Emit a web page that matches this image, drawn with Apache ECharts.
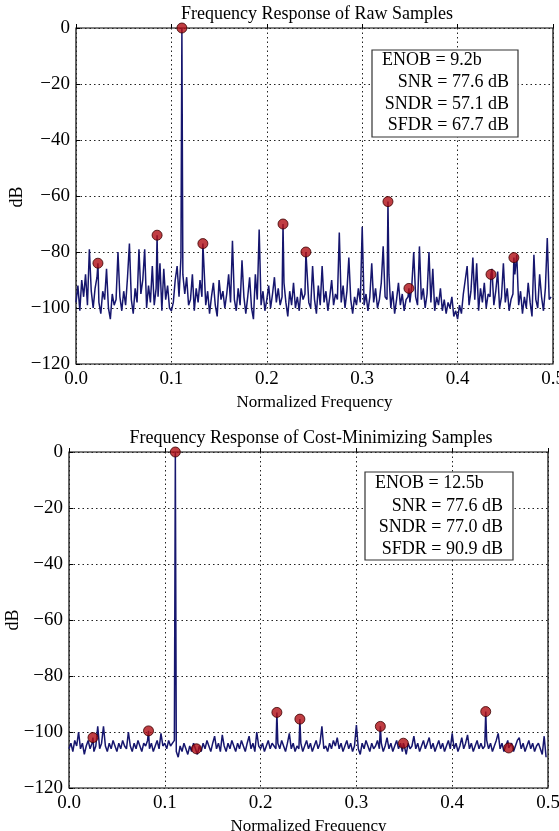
<!DOCTYPE html>
<html>
<head>
<meta charset="utf-8">
<script src="https://cdn.jsdelivr.net/npm/echarts@6/dist/echarts.min.js"></script>
<style>
  html, body { margin: 0; padding: 0; background: #fff; }
  #chart { width: 559px; height: 831px; }
</style>
</head>
<body>
<div id="chart"></div>
<script>
// spectrum bins: frequency of bin k is k * binStep (normalized)
var binStep = 0.002;

// ---- raw samples: noise floor (dB), 250 bins ----
var rawNoise = [
  -98, -92, -101, -90, -96, -88, -99, -79, -94, -100,
  -93, -89, -98, -102, -94, -97, -86, -100, -104, -95,
  -99, -97, -80, -96, -101, -94, -99, -89, -77, -97,
  -102, -93, -98, -79, -95, -90, -79, -100, -92, -98,
  -85, -99, -93, -96, -84, -101, -86, -97, -92, -100,
  -101, -98, -90, -85, -96, -82, -88, -95, -89, -99,
  -97, -88, -101, -93, -98, -90, -96, -84, -99, -94,
  -102, -96, -91, -99, -103, -90, -97, -94, -100, -95,
  -88, -98, -76, -97, -101, -93, -99, -83, -96, -102,
  -96, -89, -100, -104, -88, -97, -72, -99, -94, -101,
  -97, -92, -100, -95, -89, -98, -93, -99, -96, -91,
  -98, -103, -94, -99, -91, -100, -96, -101, -93, -97,
  -95, -86, -98, -100, -85, -97, -102, -92, -99, -85,
  -98, -94, -101, -96, -90, -99, -95, -97, -73, -98,
  -92, -100, -94, -82, -97, -102, -96, -99, -93, -98,
  -71, -99, -95, -101, -96, -84, -98, -93, -100, -97,
  -91, -78, -96, -97, -88, -100, -94, -102, -97, -91,
  -99, -95, -101, -97, -96, -98, -92, -80, -96, -99,
  -78, -97, -93, -100, -95, -80, -98, -86, -101, -96,
  -99, -93, -101, -97, -102, -98, -100, -96, -103, -101,
  -104, -99, -102, -95, -90, -85, -99, -94, -82, -97,
  -84, -101, -93, -98, -91, -100, -95, -96, -86, -99,
  -94, -87, -100, -96, -84, -98, -93, -101, -97, -95,
  -88, -81, -99, -94, -102, -96, -100, -91, -98, -103,
  -81, -97, -100, -88, -96, -101, -93, -75, -97, -96
];
// raw samples: fundamental + marked harmonics
var rawHarmFreq = [0.023, 0.085, 0.111, 0.133, 0.217, 0.241, 0.327, 0.349, 0.435, 0.459];
var rawHarmDb = [-84, -74, 0, -77, -70, -80, -62, -93, -88, -82];

// ---- cost-minimizing samples: noise floor (dB), 250 bins ----
var costNoise = [
  -106, -104, -107, -103, -105, -100, -106, -104, -108, -105,
  -103, -106, -104, -107, -105, -98, -106, -104, -98, -105,
  -107, -104, -106, -103, -105, -107, -104, -106, -103, -105,
  -106, -100, -105, -107, -104, -106, -103, -105, -107, -104,
  -105, -103, -106, -104, -107, -105, -103, -106, -100.5, -105,
  -104, -106, -103, -105, -104, -103, -107, -109, -105, -107,
  -104, -106, -108, -105, -107, -104, -106, -108, -105, -107,
  -104, -106, -103, -105, -107, -104, -101.5, -106, -104, -107,
  -101, -105, -107, -104, -106, -103, -105, -107, -104, -106,
  -103, -105, -107, -104, -101.5, -106, -104, -107, -100, -105,
  -106, -104, -107, -105, -103, -106, -104, -105, -106, -104,
  -106, -103, -105, -107, -104, -100.5, -106, -104, -107, -105,
  -106, -104, -107, -105, -103, -106, -104, -107, -105, -103,
  -106, -104, -98, -106, -105, -107, -104, -106, -103, -105,
  -102, -106, -104, -107, -105, -103, -106, -104, -107, -105,
  -97.5, -106, -108, -104, -106, -103, -105, -107, -104, -106,
  -105, -103, -106, -104, -107, -105, -102, -106, -104, -107,
  -105, -103, -106, -104, -107, -105, -108, -104, -106, -105,
  -101.5, -106, -104, -107, -105, -103, -106, -104, -102, -106,
  -104, -107, -105, -103, -106, -104, -107, -105, -103, -106,
  -100.5, -106, -104, -107, -105, -102, -106, -104, -101, -106,
  -104, -107, -105, -103, -106, -104, -106, -105, -103, -106,
  -104, -107, -105, -103, -100.5, -106, -104, -107, -105, -103,
  -106, -104, -107, -105, -103, -102, -106, -104, -107, -105,
  -103, -106, -104, -107, -105, -104, -106, -108, -101.5, -109
];
var costHarmFreq = [0.025, 0.083, 0.111, 0.133, 0.217, 0.241, 0.325, 0.349, 0.435, 0.459];
var costHarmDb = [-102, -99.6, 0, -106, -93, -95.4, -98, -104, -92.7, -105.7];

var rawStats = ['ENOB = 9.2b', 'SNR = 77.6 dB', 'SNDR = 57.1 dB', 'SFDR = 67.7 dB'];
var costStats = ['ENOB = 12.5b', 'SNR = 77.6 dB', 'SNDR = 77.0 dB', 'SFDR = 90.9 dB'];

var xTicks = [0, 0.1, 0.2, 0.3, 0.4, 0.5];

var serif = '"Liberation Serif", "DejaVu Serif", serif';
var lineColor = '#16166e';
var dotColor = '#b00e14';

function spectrum(noise, hf, hd) {
  var pts = noise.map(function (v, k) { return [k * binStep, v]; });
  hf.forEach(function (f, i) { pts.push([f, hd[i]]); });
  pts.sort(function (a, b) { return a[0] - b[0]; });
  return pts;
}
function harmonics(hf, hd) {
  return hf.map(function (f, i) { return [f, hd[i]]; });
}

function xAxis(gi) {
  return {
    type: 'value', gridIndex: gi, min: 0, max: 0.5, interval: 0.1,
    name: 'Normalized Frequency', nameLocation: 'middle', nameGap: 30,
    nameTextStyle: { fontFamily: serif, fontSize: 17, color: '#000' },
    axisLine: { show: false },
    axisTick: { show: true, inside: true, length: 4, lineStyle: { color: '#000' } },
    axisLabel: {
      fontFamily: serif, fontSize: 19, color: '#000', margin: 6,
      formatter: function (v) { return xTicks.indexOf(v) >= 0 ? v.toFixed(1) : ''; }
    },
    splitLine: { show: true, lineStyle: { color: '#222', type: [1.5, 3], width: 1 } }
  };
}
function yAxis(gi) {
  return {
    type: 'value', gridIndex: gi, min: -120, max: 0, interval: 20,
    axisLine: { show: false },
    axisTick: { show: true, inside: true, length: 4, lineStyle: { color: '#000' } },
    axisLabel: {
      fontFamily: serif, fontSize: 19, color: '#000', margin: 6,
      formatter: function (v) { return v < 0 ? '\u2212' + (-v) : String(v); }
    },
    splitLine: { show: true, lineStyle: { color: '#222', type: [1.5, 3], width: 1 } }
  };
}

function statBox(x, y, w, h, lines, leftX, rightX, lineYs) {
  var els = [{
    type: 'rect', shape: { x: x, y: y, width: w, height: h },
    style: { fill: '#fff', stroke: '#333', lineWidth: 1.2 }, z: 100
  }];
  lines.forEach(function (t, i) {
    els.push({
      type: 'text', x: i === 0 ? leftX : rightX, y: lineYs[i], z: 101,
      style: {
        text: t, fill: '#000', font: '18px ' + serif,
        textAlign: i === 0 ? 'left' : 'right', textVerticalAlign: 'middle'
      }
    });
  });
  return els;
}
function yName(x, y) {
  return {
    type: 'text', x: x, y: y, rotation: Math.PI / 2,
    style: { text: 'dB', fill: '#000', font: '18px ' + serif, textAlign: 'center', textVerticalAlign: 'middle' }
  };
}

var chart = echarts.init(document.getElementById('chart'), null, { renderer: 'canvas' });
chart.setOption({
  animation: false,
  backgroundColor: '#fff',
  grid: [
    { left: 76, top: 28, width: 477, height: 336, outerBoundsMode: 'none', containLabel: false, show: true, borderColor: '#000', borderWidth: 1.2, backgroundColor: 'transparent' },
    { left: 69, top: 452, width: 479, height: 336, outerBoundsMode: 'none', containLabel: false, show: true, borderColor: '#000', borderWidth: 1.2, backgroundColor: 'transparent' }
  ],
  xAxis: [xAxis(0), xAxis(1)],
  yAxis: [yAxis(0), yAxis(1)],
  series: [
    {
      type: 'line', xAxisIndex: 0, yAxisIndex: 0, showSymbol: false, symbol: 'none',
      data: spectrum(rawNoise, rawHarmFreq, rawHarmDb),
      lineStyle: { color: lineColor, width: 1.5 }, z: 3
    },
    {
      type: 'scatter', xAxisIndex: 0, yAxisIndex: 0, clip: false,
      data: harmonics(rawHarmFreq, rawHarmDb), symbolSize: 10,
      itemStyle: { color: dotColor, borderColor: '#3a0000', borderWidth: 1 }, z: 4
    },
    {
      type: 'line', xAxisIndex: 1, yAxisIndex: 1, showSymbol: false, symbol: 'none',
      data: spectrum(costNoise, costHarmFreq, costHarmDb),
      lineStyle: { color: lineColor, width: 1.5 }, z: 3
    },
    {
      type: 'scatter', xAxisIndex: 1, yAxisIndex: 1, clip: false,
      data: harmonics(costHarmFreq, costHarmDb), symbolSize: 10,
      itemStyle: { color: dotColor, borderColor: '#3a0000', borderWidth: 1 }, z: 4
    }
  ],
  graphic: [
    {
      type: 'text', x: 317, y: 14,
      style: { text: 'Frequency Response of Raw Samples', fill: '#000', font: '18px ' + serif, textAlign: 'center', textVerticalAlign: 'middle' }
    },
    {
      type: 'text', x: 311, y: 438,
      style: { text: 'Frequency Response of Cost-Minimizing Samples', fill: '#000', font: '18px ' + serif, textAlign: 'center', textVerticalAlign: 'middle' }
    },
    yName(17, 197),
    yName(13, 620)
  ].concat(
    statBox(372, 50, 146, 87, rawStats, 382, 509, [60, 82, 104, 125]),
    statBox(365, 472, 148, 88, costStats, 375, 503, [483, 506, 527, 549])
  )
});
</script>
</body>
</html>
